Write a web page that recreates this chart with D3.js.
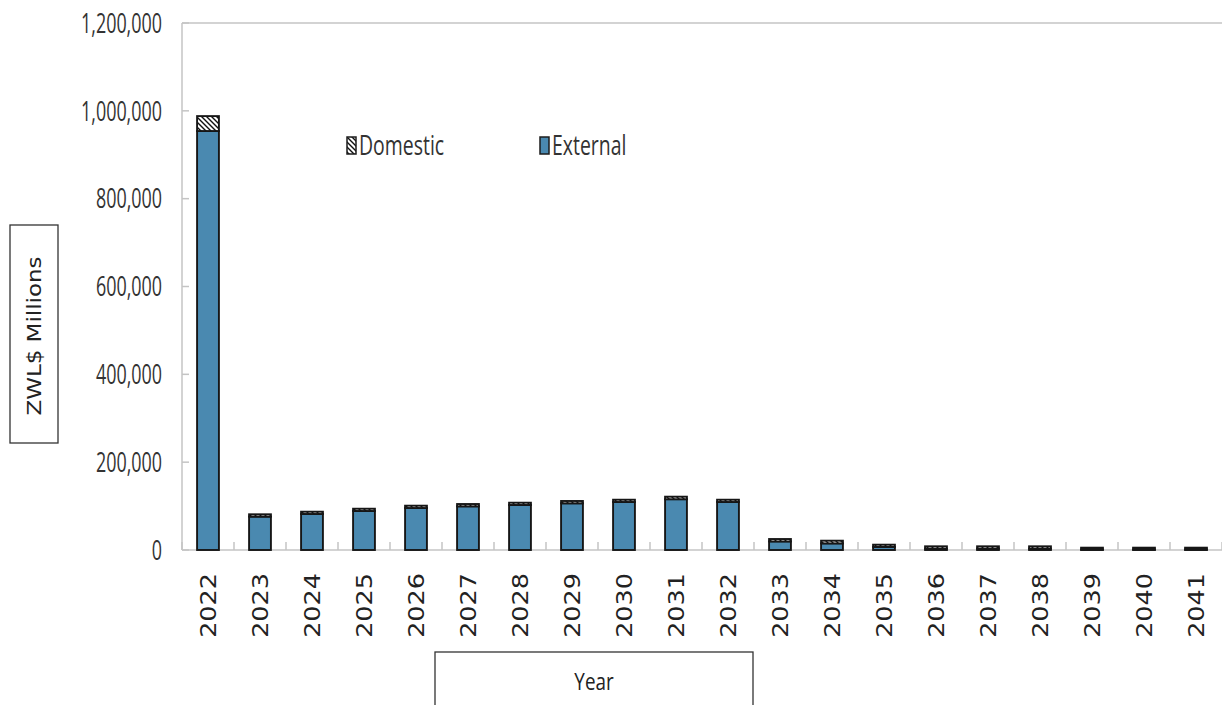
<!DOCTYPE html>
<html>
<head>
<meta charset="utf-8">
<script src="https://cdn.jsdelivr.net/npm/d3@7"></script>
<style>
  html, body { margin: 0; padding: 0; background: #fff; }
  svg { display: block; }
</style>
</head>
<body>
<svg id="chart" width="1222" height="705"></svg>
<script>
// Debt service profile by year (ZWL$ millions)
const years = ["2022","2023","2024","2025","2026","2027","2028","2029","2030","2031",
               "2032","2033","2034","2035","2036","2037","2038","2039","2040","2041"];
const external = [954000, 76000, 82000, 88800, 95600, 99400, 102500, 106300, 109300, 115600,
                  109300, 19500, 15000, 7000, 3000, 3000, 3000, 1300, 1300, 1300];
const domestic = [34000, 5300, 5200, 5200, 5300, 5300, 5200, 5300, 5200, 5800,
                  5200, 5500, 6200, 5100, 5400, 5400, 5400, 4000, 4000, 4000];
const yTicks = [0, 200000, 400000, 600000, 800000, 1000000, 1200000];
const seriesNames = ["Domestic", "External"];

const svg = d3.select("#chart");
const plotLeft = 182, plotRight = 1222, plotTop = 23, plotBottom = 550;

const defs = svg.append("defs");
const hatch = defs.append("pattern")
  .attr("id", "hatch").attr("patternUnits", "userSpaceOnUse")
  .attr("width", 5).attr("height", 5);
hatch.append("rect").attr("width", 5).attr("height", 5).attr("fill", "#fff");
hatch.append("path").attr("d", "M0,0L5,5M-1,4L1,6M4,-1L6,1")
  .attr("stroke", "#111").attr("stroke-width", 1.4);

const x = d3.scaleBand().domain(years).range([plotLeft, plotRight])
  .paddingInner(0.58).paddingOuter(0.29);
const y = d3.scaleLinear().domain([0, 1200000]).range([plotBottom, plotTop]);

const grey = "#c4c4c4";

// plot frame: left axis, top edge, baseline
svg.append("line").attr("x1", plotLeft).attr("x2", plotLeft).attr("y1", plotTop).attr("y2", plotBottom)
  .attr("stroke", grey).attr("stroke-width", 1.5);
svg.append("line").attr("x1", plotLeft).attr("x2", plotRight).attr("y1", plotTop).attr("y2", plotTop)
  .attr("stroke", grey).attr("stroke-width", 1.5);
svg.append("line").attr("x1", plotLeft).attr("x2", plotRight).attr("y1", plotBottom).attr("y2", plotBottom)
  .attr("stroke", grey).attr("stroke-width", 1.5);

// y ticks (pointing inward) and labels
svg.selectAll(".ytick").data(yTicks).join("line")
  .attr("x1", plotLeft).attr("x2", plotLeft + 7)
  .attr("y1", d => y(d)).attr("y2", d => y(d))
  .attr("stroke", grey).attr("stroke-width", 1.5);
const fmt = d3.format(",");
svg.selectAll(".ylab").data(yTicks).join("text")
  .attr("transform", d => `translate(162,${y(d)}) scale(0.64,1)`)
  .attr("text-anchor", "end").attr("dy", "0.35em")
  .attr("font-family", "'Open Sans', sans-serif").attr("font-size", 28)
  .attr("fill", "#333").text(d => fmt(d));

// x ticks at band boundaries (pointing up)
const step = x.step();
svg.selectAll(".xtick").data(d3.range(years.length + 1)).join("line")
  .attr("x1", i => plotLeft + i * step).attr("x2", i => plotLeft + i * step)
  .attr("y1", plotBottom).attr("y2", plotBottom - 8)
  .attr("stroke", grey).attr("stroke-width", 1.5);

// stacked bars
const rows = years.map((yr, i) => ({ year: yr, External: external[i], Domestic: domestic[i] }));
const stack = d3.stack().keys(["External", "Domestic"])(rows);
const fills = { External: "#4a89b0", Domestic: "url(#hatch)" };
stack.forEach(layer => {
  svg.append("g").selectAll("rect").data(layer).join("rect")
    .attr("x", d => x(d.data.year))
    .attr("width", x.bandwidth())
    .attr("y", d => y(d[1]))
    .attr("height", d => y(d[0]) - y(d[1]))
    .attr("fill", fills[layer.key])
    .attr("stroke", "#161616").attr("stroke-width", 1.9);
});

// x labels, rotated
svg.selectAll(".xlab").data(years).join("text")
  .attr("transform", d => `translate(${x(d) + x.bandwidth() / 2 + 1},573) scale(0.8,1) rotate(-90)`)
  .attr("text-anchor", "end").attr("dy", "0.36em")
  .attr("font-family", "'DejaVu Sans', sans-serif").attr("font-size", 25.5)
  .attr("fill", "#222").text(d => d);

// legend
const legend = [
  { name: seriesNames[0], x: 347, fill: "url(#hatch)" },
  { name: seriesNames[1], x: 540, fill: "#4a89b0" }
];
legend.forEach(l => {
  svg.append("rect").attr("x", l.x).attr("y", 137).attr("width", 9).attr("height", 17)
    .attr("fill", l.fill).attr("stroke", "#1c1c1c").attr("stroke-width", 1.5);
  svg.append("text")
    .attr("transform", `translate(${l.x + 12},155) scale(0.72,1)`)
    .attr("font-family", "'Open Sans', sans-serif").attr("font-size", 27)
    .attr("fill", "#333").text(l.name);
});

// y-axis title box
svg.append("rect").attr("x", 10).attr("y", 225).attr("width", 48).attr("height", 218)
  .attr("fill", "#fff").attr("stroke", "#333").attr("stroke-width", 1.3);
svg.append("text")
  .attr("transform", "translate(34,336) scale(0.85,1) rotate(-90)")
  .attr("text-anchor", "middle").attr("dy", "0.36em")
  .attr("font-family", "'DejaVu Sans', sans-serif").attr("font-size", 23)
  .attr("fill", "#222").text("ZWL$ Millions");

// x-axis title box
svg.append("rect").attr("x", 435).attr("y", 652).attr("width", 318).attr("height", 70)
  .attr("fill", "#fff").attr("stroke", "#333").attr("stroke-width", 1.3);
svg.append("text")
  .attr("transform", "translate(594,690) scale(0.82,1)")
  .attr("text-anchor", "middle")
  .attr("font-family", "'Open Sans', sans-serif").attr("font-size", 23)
  .attr("fill", "#222").text("Year");
</script>
</body>
</html>
